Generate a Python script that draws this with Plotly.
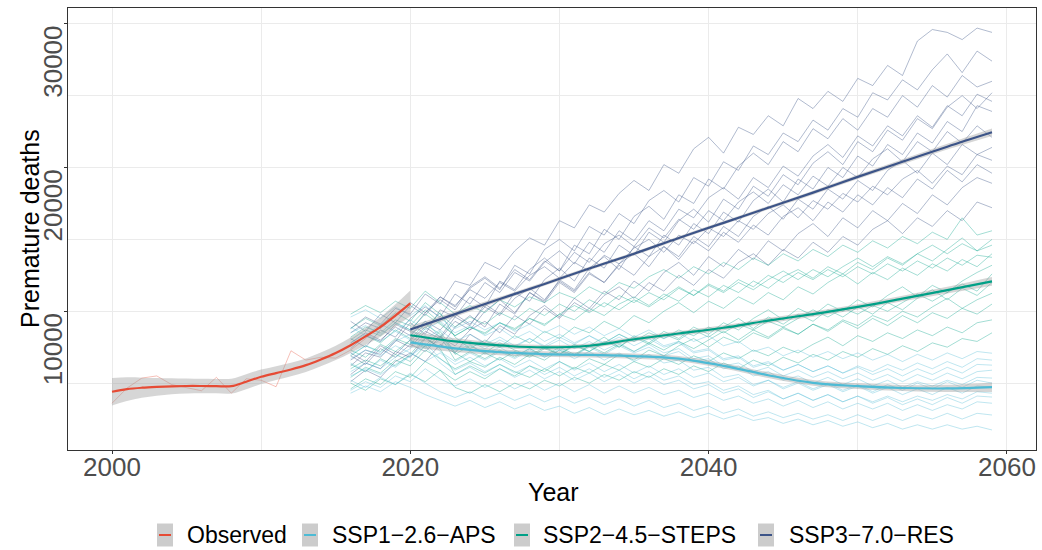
import plotly.graph_objects as go

# ---------------- data ----------------
obs_years = list(range(2000, 2021))
obs_values = [3600, 4650, 5350, 5500, 4900, 4700, 4470, 5400, 4300, 5300, 5200,
              4750, 7250, 6600, 6800, 6740, 7300, 8100, 9000, 9800, 10550]
obs_smooth = [4400, 4580, 4680, 4740, 4780, 4800, 4800, 4790, 4790, 5100, 5440,
              5700, 5950, 6250, 6650, 7100, 7640, 8250, 8910, 9700, 10550]
obs_band_half = [950, 820, 700, 620, 560, 520, 500, 500, 520, 520, 500,
                 480, 470, 470, 480, 500, 540, 600, 680, 780, 900]

member_years = list(range(2016, 2060))

ssp1_members = [
    [9600, 10100, 9500, 10300, 9700, 10400, 9500, 8800, 9300, 8700, 9200, 8600, 9100, 8500, 9000, 8400, 8900, 8300, 8800, 8200, 8700, 8100, 8500, 7900, 8300, 7600, 7900, 7200, 7500, 6900, 7300, 6800, 7200, 6700, 7100, 6600, 7000, 6500, 7000, 6600, 7100, 6700, 7200, 7080],
    [7000, 7600, 7100, 7900, 8400, 9300, 8200, 7300, 7900, 7400, 8000, 7500, 8100, 7600, 8200, 7700, 8300, 7800, 8400, 7900, 8300, 7600, 7900, 7200, 7400, 6700, 6900, 6200, 6500, 5900, 6300, 5800, 6200, 5700, 6100, 5600, 6000, 5500, 6000, 5600, 6100, 5700, 6300, 6250],
    [8500, 9000, 8400, 9200, 8700, 8100, 8700, 7900, 8400, 7700, 8200, 7600, 8100, 7500, 8000, 7400, 7900, 7300, 7800, 7200, 7700, 7100, 7400, 6700, 6900, 6200, 6400, 5800, 6100, 5500, 5900, 5400, 5800, 5300, 5700, 5200, 5600, 5100, 5600, 5200, 5700, 5300, 5800, 5900],
    [5800, 6400, 6000, 6800, 7400, 8300, 7200, 6500, 7100, 6600, 7200, 6700, 7300, 6800, 7400, 6900, 7500, 7000, 7600, 7100, 7500, 6900, 7200, 6500, 6700, 6000, 6200, 5500, 5800, 5200, 5500, 5000, 5400, 4900, 5300, 4800, 5200, 4700, 5100, 4800, 5200, 4900, 5400, 5350],
    [7800, 8400, 7900, 8600, 8000, 7400, 8000, 7200, 7700, 7000, 7500, 6900, 7400, 6800, 7300, 6700, 7200, 6600, 7100, 6500, 7000, 6400, 6600, 5900, 6100, 5400, 5600, 4900, 5200, 4600, 5000, 4500, 4900, 4400, 4800, 4300, 4700, 4200, 4600, 4200, 4700, 4300, 4800, 4720],
    [6400, 5800, 6600, 6100, 6900, 7800, 6700, 5900, 6400, 5800, 6300, 5700, 6200, 5600, 6100, 5500, 6000, 5400, 5900, 5300, 5800, 5200, 5500, 4900, 5100, 4500, 4800, 4200, 4500, 3900, 4300, 3800, 4200, 3700, 4100, 3600, 4000, 3500, 3900, 3500, 4000, 3600, 4100, 4030],
    [4500, 5100, 4700, 5500, 5100, 6000, 5300, 4800, 5300, 4700, 5200, 4600, 5100, 4500, 5000, 4400, 4900, 4300, 4800, 4300, 4700, 4200, 4500, 4000, 4300, 3800, 4100, 3600, 3900, 3400, 3800, 3300, 3700, 3200, 3600, 3200, 3600, 3100, 3500, 3100, 3500, 3200, 3700, 3600],
    [5200, 4700, 5400, 4900, 5700, 5000, 4400, 4000, 4400, 3900, 4300, 3800, 4200, 3700, 4100, 3600, 4000, 3500, 3900, 3400, 3800, 3300, 3600, 3100, 3400, 2900, 3200, 2700, 3000, 2600, 2900, 2500, 2800, 2400, 2800, 2400, 2800, 2400, 2800, 2500, 2900, 2500, 2900, 2780],
    [4300, 4800, 4400, 5100, 4700, 4200, 3800, 3400, 3800, 3300, 3700, 3200, 3600, 3100, 3400, 2900, 3300, 2800, 3200, 2800, 3100, 2700, 3000, 2600, 2900, 2500, 2800, 2400, 2600, 2200, 2500, 2100, 2400, 2000, 2300, 1900, 2200, 1800, 2100, 1800, 2100, 1800, 2000, 1740],
    [6700, 7300, 6900, 7600, 7100, 6500, 7100, 6300, 6800, 6200, 6700, 6100, 6600, 6000, 6500, 5900, 6400, 5800, 6300, 5700, 6200, 5600, 6000, 5400, 5700, 5100, 5400, 4800, 5200, 4700, 5100, 4600, 5000, 4500, 4900, 4400, 4900, 4500, 5000, 4600, 5100, 4700, 5200, 5000],
    [5500, 6000, 5600, 6300, 6900, 7600, 6400, 5600, 6100, 5500, 6000, 5400, 5900, 5300, 5800, 5200, 5700, 5100, 5600, 5000, 5500, 4900, 5200, 4600, 4900, 4300, 4600, 4000, 4400, 3900, 4300, 3800, 4200, 3700, 4100, 3700, 4100, 3700, 4100, 3800, 4200, 3900, 4400, 4300],
    [8900, 8300, 9100, 8600, 9400, 8700, 9300, 8500, 9000, 8300, 8800, 8100, 8600, 7900, 8400, 7800, 8300, 7700, 8200, 7600, 8100, 7500, 7800, 7100, 7300, 6600, 6800, 6100, 6400, 5900, 6300, 5800, 6200, 5700, 6200, 5800, 6300, 5900, 6400, 6000, 6500, 6100, 6700, 6600],
]

ssp2_members = [
    [9800, 10400, 9900, 10700, 10200, 11400, 10600, 9800, 10400, 9900, 10800, 10300, 11000, 10600, 11300, 10900, 11700, 11200, 12000, 11600, 12400, 12900, 12300, 13100, 12600, 13400, 12900, 13700, 13200, 14000, 13500, 14300, 13800, 14600, 14100, 14900, 14400, 15200, 14700, 15500, 15000, 16500, 15300, 15600],
    [8200, 8900, 8500, 9400, 9000, 10100, 9200, 8300, 8900, 8400, 9200, 8700, 9500, 9000, 9800, 9400, 10200, 9700, 10500, 11000, 10400, 11200, 10700, 11500, 11000, 11800, 11300, 12100, 11600, 12400, 12900, 12300, 13100, 12600, 13400, 12900, 13700, 13200, 14000, 13500, 14300, 15100, 14200, 14600],
    [6900, 7600, 7200, 8100, 7700, 8800, 9900, 8200, 7400, 8000, 7500, 8300, 7800, 8600, 8100, 8900, 8500, 9300, 8800, 9700, 9200, 10000, 10600, 9900, 10700, 10200, 11000, 10500, 11300, 10800, 11700, 11200, 12000, 12600, 11900, 12700, 12200, 13000, 12500, 13300, 12800, 13600, 13100, 14000],
    [5400, 6100, 5700, 6600, 6200, 7300, 6700, 6000, 6500, 6100, 6800, 6300, 7000, 6600, 7300, 6900, 7600, 8200, 7500, 8300, 7800, 8600, 8100, 8900, 8400, 9200, 8700, 9500, 10100, 9400, 10200, 9700, 10500, 10000, 10800, 10300, 11100, 11700, 11000, 11800, 11300, 12100, 12700, 13200],
    [7600, 8300, 7800, 8700, 8100, 9100, 8400, 7000, 7600, 7100, 7800, 7300, 6900, 7500, 7000, 7700, 7200, 7900, 7500, 8200, 7700, 8400, 8000, 8700, 8200, 8900, 9500, 8800, 9600, 9100, 9800, 9300, 10100, 9600, 10300, 9800, 10600, 10100, 10900, 11500, 10800, 11600, 11100, 12000],
    [4600, 5300, 4900, 5800, 5400, 6500, 5900, 5200, 5800, 5300, 6000, 5500, 6200, 5800, 6500, 6000, 6700, 6300, 7000, 6600, 7300, 6900, 7600, 8100, 7500, 8200, 7800, 8500, 8100, 8800, 8400, 9100, 8700, 9400, 9000, 9700, 9300, 10000, 9600, 10300, 10900, 10200, 10800, 11250],
    [6300, 5800, 6700, 6200, 7000, 8200, 7400, 5600, 6200, 5700, 6300, 5800, 5400, 6000, 5500, 6100, 5700, 6300, 5900, 6500, 6100, 6700, 6300, 6900, 6500, 7100, 6700, 7300, 6900, 7500, 7100, 7700, 8200, 7600, 8300, 7900, 8500, 8100, 8700, 8300, 8900, 8500, 9200, 9400],
    [5000, 4500, 5300, 4900, 5600, 5100, 5900, 4700, 4300, 4900, 4400, 5000, 4600, 5200, 4800, 5400, 5000, 5600, 5200, 5800, 5400, 6000, 5600, 6200, 5800, 6400, 6000, 6600, 6200, 6800, 6400, 7000, 6600, 7200, 6800, 7400, 7000, 7600, 7200, 7800, 7500, 8100, 7900, 8500],
    [8800, 9500, 9000, 9900, 9300, 10600, 9800, 8900, 9600, 9100, 9900, 9400, 10200, 9700, 10500, 10000, 10800, 10300, 11100, 10600, 11300, 10800, 11600, 11100, 11900, 11400, 12200, 11700, 12500, 12000, 12700, 12200, 12900, 12400, 13100, 12600, 13300, 12800, 13500, 13000, 13700, 13200, 13900, 13750],
    [7300, 6800, 7700, 7200, 8000, 7500, 8300, 6600, 7200, 6700, 7300, 6800, 7400, 6900, 7500, 7000, 7600, 7100, 7700, 7200, 7800, 7300, 7900, 7400, 8000, 8600, 8000, 8700, 8200, 8900, 8400, 9100, 8600, 9300, 8800, 9500, 9000, 9700, 9200, 9900, 9500, 10200, 9800, 10500],
    [6000, 6600, 6200, 7000, 6500, 7600, 8600, 7100, 6500, 7100, 6600, 7200, 6800, 7400, 7000, 7600, 7200, 7800, 8400, 7900, 8500, 8100, 8700, 8300, 8900, 8500, 9100, 8700, 9300, 8900, 9500, 10100, 9600, 10200, 9800, 10400, 10000, 10600, 11200, 10700, 11300, 11900, 11400, 12600],
    [8000, 8700, 8300, 9200, 8700, 9800, 9100, 8300, 8900, 8500, 9200, 8800, 9500, 9100, 9800, 10400, 9900, 10600, 10100, 10800, 10300, 11000, 11700, 11100, 11800, 11300, 12000, 11500, 12200, 12800, 12200, 12900, 12400, 13100, 13700, 13100, 13800, 13300, 14000, 14600, 14000, 14700, 14200, 15000],
]

ssp3_members = [
    [8800, 9600, 9100, 10200, 9800, 11200, 10500, 12100, 11800, 13400, 12900, 14200, 15100, 14600, 16300, 15800, 17400, 16900, 18200, 19100, 18400, 20200, 19600, 21300, 22100, 21000, 22800, 22300, 23600, 22900, 24800, 24100, 25300, 24600, 26200, 25700, 27100, 26400, 28800, 29600, 29400, 28900, 29700, 29400],
    [7400, 8300, 7900, 9100, 8600, 9900, 10800, 10100, 11600, 12300, 11500, 13200, 12600, 14300, 15000, 14200, 15900, 15300, 16800, 16100, 17700, 18400, 17600, 19300, 18700, 20400, 19800, 21500, 20900, 22400, 21800, 23300, 22600, 24100, 23500, 25200, 24700, 26100, 25400, 26800, 27900, 26600, 28100, 27400],
    [6200, 7100, 6800, 7900, 9200, 8400, 10100, 9600, 11000, 10300, 12100, 11500, 12900, 13700, 12800, 14600, 14000, 15700, 15000, 16600, 17300, 16400, 18100, 17500, 19200, 18500, 20100, 21000, 20200, 21800, 21100, 22700, 22000, 23400, 22600, 24100, 23500, 25000, 24200, 25700, 24900, 26400, 25600, 26000],
    [8100, 7500, 8700, 8200, 9500, 10300, 9600, 11200, 10500, 12000, 11300, 12700, 12100, 13400, 14200, 13300, 14800, 14100, 15600, 14900, 16300, 15600, 17100, 16500, 17900, 18600, 17800, 19300, 18600, 20100, 19400, 20800, 21600, 20700, 22200, 21500, 22900, 22200, 23600, 22800, 24300, 23600, 25100, 24600],
    [5600, 6400, 6000, 7200, 6800, 8100, 7500, 8900, 9700, 8900, 10500, 9800, 11300, 10700, 12200, 11500, 13000, 13800, 12900, 14500, 13800, 15300, 14600, 16100, 15400, 16900, 16200, 17700, 18500, 17600, 19200, 18500, 20000, 19300, 20800, 20100, 21600, 20900, 22400, 21700, 23200, 22500, 24300, 23900],
    [9300, 8600, 9800, 9200, 10400, 9700, 11000, 10300, 11700, 12400, 11600, 12900, 12200, 13500, 12800, 14100, 13400, 14700, 15300, 14500, 15800, 15100, 16400, 15700, 17000, 16300, 17600, 18300, 17500, 18800, 18100, 19400, 18700, 20000, 19300, 20600, 21300, 20400, 21800, 21100, 22500, 21700, 22900, 22100],
    [6600, 7300, 7000, 8000, 7500, 8600, 8100, 9300, 8700, 10000, 10800, 9900, 11300, 10600, 12000, 11300, 12600, 12000, 13300, 14000, 13100, 14500, 13800, 15200, 14500, 15900, 15200, 16600, 17300, 16400, 17800, 17100, 18500, 17800, 19100, 18400, 19800, 20500, 19600, 21000, 20200, 21600, 20900, 21400],
    [7800, 8500, 8000, 8900, 8300, 9300, 8700, 9800, 9100, 10300, 9700, 10900, 11600, 10800, 12100, 11400, 12700, 12000, 13200, 12500, 13800, 14500, 13600, 14900, 14200, 15500, 14800, 16000, 15300, 16600, 17200, 16300, 17600, 16900, 18100, 17400, 18600, 17900, 19200, 18500, 19800, 19000, 20200, 19600],
    [5100, 5900, 5400, 6500, 7100, 6500, 7700, 7100, 8400, 7800, 9000, 8400, 9700, 10400, 9600, 10900, 10200, 11400, 10800, 12100, 11400, 12700, 13400, 12500, 13800, 13100, 14300, 13600, 14900, 14200, 15400, 16100, 15200, 16500, 15800, 17000, 16300, 17500, 16800, 18100, 17400, 18600, 19300, 18900],
    [6900, 6300, 7400, 6800, 7700, 7200, 8200, 7600, 8700, 9300, 8500, 9700, 9100, 10200, 9500, 10600, 10000, 11100, 11700, 10900, 12000, 11400, 12500, 11800, 12900, 12300, 13400, 14000, 13200, 14300, 13700, 14800, 14100, 15200, 14600, 15700, 16300, 15400, 16500, 15900, 17000, 16300, 17600, 17200],
    [8500, 9200, 8800, 9700, 10600, 9900, 11000, 10400, 11500, 10900, 12000, 11400, 12500, 13100, 12300, 13400, 12800, 13900, 13300, 14400, 15000, 14100, 15300, 14700, 15800, 15200, 16300, 15700, 16800, 17400, 16500, 17700, 17100, 18200, 17600, 18700, 18100, 19200, 19800, 18900, 20100, 19500, 20900, 20500],
    [7100, 6500, 7600, 7000, 8000, 8900, 8200, 9600, 9000, 10500, 9800, 11300, 10700, 12200, 13000, 12100, 13700, 13000, 14600, 13900, 15500, 14800, 16300, 17100, 16200, 17800, 17100, 18700, 18000, 19500, 18800, 20300, 21100, 20200, 21800, 21100, 22600, 21900, 23400, 22700, 24200, 25000, 24100, 25200],
]

# smoothed scenario means (knots) and band half-widths
smooth_years = [2020, 2023, 2026, 2029, 2032, 2035, 2038, 2041, 2044, 2047, 2050, 2053, 2056, 2059]
ssp1_smooth = [7830, 7420, 7150, 7020, 6960, 6880, 6700, 6200, 5550, 5020, 4790, 4660, 4630, 4720]
ssp2_smooth = [8330, 7900, 7620, 7480, 7600, 8050, 8450, 8850, 9350, 9800, 10300, 10880, 11470, 12080]
ssp3_smooth = [8730, 9800, 10850, 11900, 12970, 14000, 15100, 16150, 17200, 18250, 19350, 20400, 21450, 22450]
ssp1_band_half = [330, 250, 210, 190, 180, 180, 180, 190, 200, 200, 200, 210, 250, 330]
ssp2_band_half = [300, 220, 180, 170, 160, 160, 160, 170, 180, 180, 180, 190, 230, 300]
ssp3_band_half = [260, 190, 150, 130, 120, 120, 120, 120, 130, 140, 150, 170, 200, 260]

scenario_names = ["Observed", "SSP1\u22122.6\u2212APS", "SSP2\u22124.5\u2212STEPS", "SSP3\u22127.0\u2212RES"]
scenario_colors = ["#E64B35", "#4DBBD5", "#00A087", "#3C5488"]

y_tick_values = [10000, 20000, 30000]
x_tick_values = [2000, 2020, 2040, 2060]

# ---------------- styling ----------------
FONT = "Liberation Sans, Arial, Helvetica, sans-serif"
BAND_FILL = "rgba(153,153,153,0.40)"


def rgba(hex_color, a):
    h = hex_color.lstrip("#")
    r, g, b = int(h[0:2], 16), int(h[2:4], 16), int(h[4:6], 16)
    return f"rgba({r},{g},{b},{a})"


fig = go.Figure()

# ensemble members
for members, col, op in [(ssp3_members, scenario_colors[3], 0.40),
                         (ssp2_members, scenario_colors[2], 0.36),
                         (ssp1_members, scenario_colors[1], 0.36)]:
    for m in members:
        fig.add_trace(go.Scatter(x=member_years, y=m, mode="lines",
                                 line=dict(color=rgba(col, op), width=1),
                                 hoverinfo="skip", showlegend=False))

# observed raw line
fig.add_trace(go.Scatter(x=obs_years, y=obs_values, mode="lines",
                         line=dict(color=rgba(scenario_colors[0], 0.35), width=1),
                         hoverinfo="skip", showlegend=False))


def add_band(xs, mid, half):
    hi = [m + h for m, h in zip(mid, half)]
    lo = [m - h for m, h in zip(mid, half)]
    fig.add_trace(go.Scatter(x=xs, y=lo, mode="lines",
                             line=dict(width=0, shape="spline"),
                             hoverinfo="skip", showlegend=False))
    fig.add_trace(go.Scatter(x=xs, y=hi, mode="lines", fill="tonexty",
                             fillcolor=BAND_FILL,
                             line=dict(width=0, shape="spline"),
                             hoverinfo="skip", showlegend=False))


add_band(obs_years, obs_smooth, obs_band_half)
add_band(smooth_years, ssp1_smooth, ssp1_band_half)
add_band(smooth_years, ssp2_smooth, ssp2_band_half)
add_band(smooth_years, ssp3_smooth, ssp3_band_half)

fig.add_trace(go.Scatter(x=obs_years, y=obs_smooth, mode="lines",
                         line=dict(color=scenario_colors[0], width=2.2, shape="spline"),
                         hoverinfo="skip", showlegend=False))
for sm, col in [(ssp1_smooth, scenario_colors[1]),
                (ssp2_smooth, scenario_colors[2]),
                (ssp3_smooth, scenario_colors[3])]:
    fig.add_trace(go.Scatter(x=smooth_years, y=sm, mode="lines",
                             line=dict(color=col, width=2.2, shape="spline"),
                             hoverinfo="skip", showlegend=False))

# ---------------- layout ----------------
L, R, T, B = 68, 6, 8, 100
W, H = 1042, 550
PW, PH = W - L - R, H - T - B


def px_to_paper_x(px):
    return (px - L) / PW


def px_to_paper_y(py):
    return (H - B - py) / PH


annotations = []
for v in y_tick_values:
    annotations.append(dict(text=str(v), xref="paper", yref="y", x=0, y=v,
                            xanchor="center", yanchor="top", xshift=-15,
                            textangle=-90, showarrow=False,
                            font=dict(family=FONT, size=26, color="#4D4D4D")))
annotations.append(dict(text="Premature deaths", xref="paper", yref="paper",
                        x=0, y=px_to_paper_y(229), xanchor="center", yanchor="middle", xshift=-38,
                        textangle=-90, showarrow=False,
                        font=dict(family=FONT, size=25, color="#000000")))
annotations.append(dict(text="Year", xref="paper", yref="paper",
                        x=px_to_paper_x(553), y=px_to_paper_y(492), xanchor="center", yanchor="middle",
                        showarrow=False, font=dict(family=FONT, size=25, color="#000000")))

shapes = []
key_left = [157, 302, 514, 758]
text_left = [185, 330, 541, 787]
leg_y = 535
for name, col, kx, tx in zip(scenario_names, scenario_colors, key_left, text_left):
    shapes.append(dict(type="rect", xref="paper", yref="paper",
                       x0=px_to_paper_x(kx), x1=px_to_paper_x(kx + 16),
                       y0=px_to_paper_y(leg_y + 11.5), y1=px_to_paper_y(leg_y - 11.5),
                       fillcolor="#CCCCCC", line=dict(width=0), layer="above"))
    shapes.append(dict(type="line", xref="paper", yref="paper",
                       x0=px_to_paper_x(kx + 2), x1=px_to_paper_x(kx + 14),
                       y0=px_to_paper_y(leg_y), y1=px_to_paper_y(leg_y),
                       line=dict(color=col, width=2), layer="above"))
    annotations.append(dict(text=name, xref="paper", yref="paper",
                            x=px_to_paper_x(tx), y=px_to_paper_y(leg_y),
                            xanchor="left", yanchor="middle", showarrow=False,
                            font=dict(family=FONT, size=23, color="#000000")))

fig.update_layout(
    width=W, height=H,
    margin=dict(l=L, r=R, t=T, b=B, autoexpand=False),
    paper_bgcolor="white", plot_bgcolor="white",
    showlegend=False,
    annotations=annotations, shapes=shapes,
    font=dict(family=FONT),
)
fig.update_xaxes(range=[1997.05, 2061.95], tickvals=x_tick_values,
                 ticks="outside", ticklen=3, tickcolor="#333333",
                 tickfont=dict(family=FONT, size=26, color="#4D4D4D"),
                 ticklabelstandoff=-9, automargin=False,
                 showgrid=True, gridcolor="#EBEBEB", gridwidth=1,
                 minor=dict(dtick=10, tick0=2000, showgrid=True, gridcolor="#EBEBEB", gridwidth=0.8),
                 showline=True, mirror=True, linecolor="#333333", linewidth=1,
                 zeroline=False)
fig.update_yaxes(range=[347, 31097], tickvals=y_tick_values, showticklabels=False,
                 ticks="outside", ticklen=3, tickcolor="#333333", automargin=False,
                 showgrid=True, gridcolor="#EBEBEB", gridwidth=1,
                 minor=dict(dtick=5000, tick0=0, showgrid=True, gridcolor="#EBEBEB", gridwidth=0.8),
                 showline=True, mirror=True, linecolor="#333333", linewidth=1,
                 zeroline=False)

fig.write_html("out.html",
               config={"displayModeBar": False},
               post_script="document.body.style.margin='0';document.body.style.padding='0';")
